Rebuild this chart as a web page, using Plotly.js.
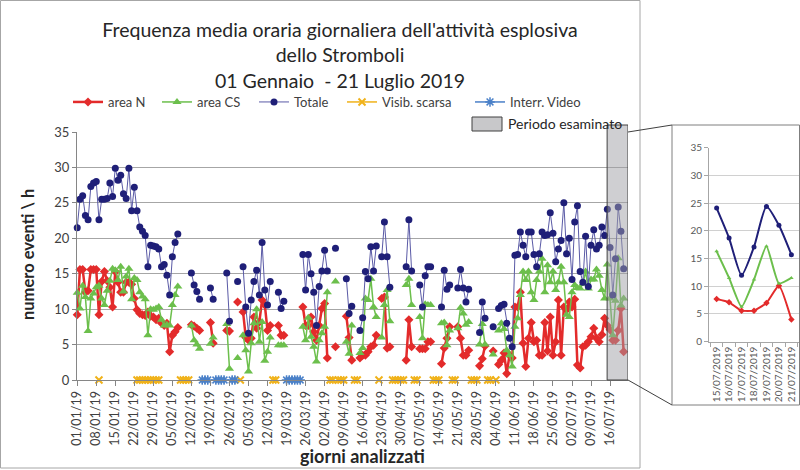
<!DOCTYPE html>
<html><head><meta charset="utf-8">
<script src="https://cdn.plot.ly/plotly-3.0.1.min.js"></script>
<style>html,body{margin:0;padding:0;background:#fff}#chart{width:800px;height:470px}</style>
</head><body><div id="chart"></div>
<script>
// ---- data (day 0 = 01/01/2019, one value per day, null = no data) ----
const startDate = '2019-01-01';
const areaN = [
9.2,15.6,15.6,12.4,12.6,15.6,15.6,15.6,9.2,13.9,
15.3,14.0,13.1,10.3,15.3,13.8,12.4,12.4,13.8,13.8,
13.5,11.5,9.9,9.4,9.2,9.1,9.6,9.0,8.9,8.5,
8.7,8.0,7.7,8.0,4.0,6.3,6.8,7.4,null,null,
null,null,7.8,7.6,7.3,7.0,null,null,null,8.1,
5.2,null,null,null,null,7.0,6.9,null,null,11.0,
null,9.6,6.0,5.6,5.9,8.9,7.3,8.2,11.3,10.6,
7.0,7.7,null,null,7.7,6.3,6.3,null,null,null,
null,null,null,10.3,7.7,7.7,8.9,6.8,5.6,7.7,
10.1,10.8,3.1,null,null,4.7,null,null,null,9.0,
6.0,2.8,null,null,3.1,3.5,3.5,4.0,4.7,4.9,
6.3,null,11.5,11.7,4.5,4.7,null,null,null,null,
null,2.8,8.5,4.7,null,null,4.4,4.4,4.4,5.4,
5.4,null,null,null,2.3,4.5,5.9,7.5,null,null,
7.5,5.9,3.5,3.5,4.2,null,null,null,2.0,3.0,
4.8,null,null,4.1,null,2.2,2.8,3.8,0.9,3.5,
3.1,10.3,10.3,12.4,5.2,1.9,5.9,8.1,5.4,5.6,
3.5,3.5,8.1,4.1,8.9,3.5,5.4,11.3,3.5,10.3,
9.9,11.0,10.3,11.4,2.1,1.7,4.7,4.9,5.4,6.1,
7.3,5.9,5.4,6.4,8.7,7.7,7.1,5.6,5.6,7.0,
10.1,4.0];
const areaCS = [
12.3,10.1,13.3,11.7,6.9,11.5,12.2,13.1,13.3,11.5,
10.6,12.6,14.0,15.7,15.5,14.1,16.0,12.5,14.6,15.7,
11.4,14.4,14.1,12.4,11.8,11.4,6.3,10.0,9.9,10.1,
10.3,8.5,7.7,7.8,7.7,10.6,12.0,13.2,null,null,
null,null,7.7,5.6,5.0,4.4,null,null,null,5.1,
6.0,null,null,null,null,7.9,1.6,null,null,3.1,
null,6.3,4.2,1.2,5.2,8.0,10.0,5.4,8.2,2.7,
4.0,6.0,null,null,4.9,4.9,4.9,null,null,null,
null,null,null,7.5,5.6,8.8,6.1,4.7,2.6,5.6,
6.6,7.5,12.4,null,null,13.9,null,null,null,5.4,
3.7,7.7,null,null,3.8,4.5,11.5,11.3,14.3,10.3,
8.9,null,6.0,10.6,12.7,8.3,null,null,null,null,
null,13.4,14.3,10.6,null,null,8.9,5.9,10.7,10.6,
10.6,null,null,null,8.0,8.1,4.9,7.0,null,null,
7.3,10.2,9.4,7.8,8.2,null,null,null,5.0,7.9,
5.0,null,null,3.6,null,7.0,8.0,7.2,4.2,3.5,
1.9,7.5,8.7,12.0,15.3,14.1,15.3,12.4,11.3,14.1,
15.3,17.1,12.4,16.2,13.8,15.3,12.7,13.8,16.0,13.8,
9.2,8.9,12.4,13.4,13.0,12.9,13.6,15.3,12.9,14.2,
14.2,15.6,14.7,12.7,11.5,16.3,11.5,6.3,11.2,17.2,
10.5,11.5];
const totale = [
21.5,25.5,26.0,23.2,22.6,27.3,27.8,28.0,22.6,25.5,
25.5,25.6,27.8,25.9,29.9,28.2,28.9,26.3,25.6,29.9,
23.9,27.2,23.9,21.6,21.0,20.4,16.0,19.0,18.9,18.8,
18.5,16.0,16.3,14.8,12.0,17.4,19.4,20.6,null,null,
null,null,15.1,13.4,12.5,11.4,null,null,null,13.0,
11.4,null,null,null,null,15.1,8.3,null,null,13.9,
null,16.0,10.3,6.6,11.3,13.9,15.5,12.0,19.4,12.7,
10.6,13.9,null,null,12.4,10.1,11.1,null,null,null,
null,null,null,17.7,12.7,17.7,15.0,12.4,7.7,13.2,
15.4,18.3,15.4,null,null,18.6,null,null,null,14.3,
9.4,10.4,null,null,7.0,8.8,15.3,14.3,18.8,15.4,
18.9,null,17.4,22.3,17.4,13.1,null,null,null,null,
null,16.0,22.6,15.4,null,null,13.4,10.3,14.7,16.0,
16.0,null,null,null,10.3,15.5,12.8,13.4,null,null,
13.0,15.6,13.0,11.0,12.8,null,null,null,6.7,11.0,
8.7,null,null,7.5,null,10.1,10.5,10.7,8.0,5.9,
4.7,17.6,17.7,20.9,19.0,17.4,20.9,20.9,17.7,16.0,
17.8,20.9,20.4,20.5,23.6,20.7,16.7,18.5,19.7,25.0,
17.8,20.0,14.2,22.3,24.6,15.3,13.8,20.3,13.2,19.0,
21.2,18.5,19.0,21.6,20.4,24.1,18.7,12.0,17.1,24.4,
21.0,15.7];
// days with poor visibility / video interruption (drawn on the zero line)
const visibDays = [8,22,23,24,25,26,27,28,29,30,38,39,40,41,60,72,73,93,94,96,97,98,102,103,111,116,117,118,119,120,124,125,131,132,133,138,139,145,146,147,151,152,154];
const videoDays = [46,47,48,51,52,53,54,57,58,77,78,79,80,81,82];
// inset (period examined)
const insetLabels = ['15/07/2019','16/07/2019','17/07/2019','18/07/2019','19/07/2019','20/07/2019','21/07/2019'];
const insetN   = [7.7,7.1,5.6,5.6,7.0,10.1,4.0];
const insetCS  = [16.3,11.5,6.3,11.2,17.2,10.5,11.5];
const insetTot = [24.1,18.7,12.0,17.1,24.4,21.0,15.7];

// ---- build ----
const W = 800, H = 470;
const px = x => x / W, py = y => 1 - y / H;
function dayToDate(i){ return new Date(Date.UTC(2019,0,1+i)).toISOString().slice(0,10); }
const dates = totale.map((_, i) => dayToDate(i));
const flag = days => dates.map((_, i) => days.includes(i) ? 0 : null);

const RED = '#e32b2b', GREEN = '#6cbf4c', NAVY = '#1f1f78', NAVYL = '#5a5aa6', ORANGE = '#f0b21a', BLUE = '#4a80c8';
const FONT = 'Lato, "Open Sans", sans-serif';

const traces = [
  {x: dates, y: areaN, name: 'area N', legend: 'legend', type: 'scatter', mode: 'lines+markers', cliponaxis: false,
   line: {color: RED, width: 2.5}, marker: {symbol: 'diamond', size: 7, color: RED}},
  {x: dates, y: areaCS, name: 'area CS', legend: 'legend2', type: 'scatter', mode: 'lines+markers', cliponaxis: false,
   line: {color: GREEN, width: 1.5}, marker: {symbol: 'triangle-up', size: 8, color: GREEN}},
  {x: dates, y: totale, name: 'Totale', legend: 'legend3', type: 'scatter', mode: 'lines+markers', cliponaxis: false,
   line: {color: NAVYL, width: 1}, marker: {symbol: 'circle', size: 7, color: NAVY}},
  {x: dates, y: flag(visibDays), name: 'Visib. scarsa', legend: 'legend4', type: 'scatter', mode: 'lines+markers', cliponaxis: false,
   line: {color: ORANGE, width: 1.5}, marker: {symbol: 'x-thin-open', size: 7, color: ORANGE, line: {width: 2, color: ORANGE}}},
  {x: dates, y: flag(videoDays), name: 'Interr. Video', legend: 'legend5', type: 'scatter', mode: 'lines+markers', cliponaxis: false,
   line: {color: BLUE, width: 1.5}, marker: {symbol: 'asterisk-open', size: 8, color: BLUE, line: {width: 1.5, color: BLUE}}},
  {x: insetLabels, y: insetN, xaxis: 'x2', yaxis: 'y2', showlegend: false, type: 'scatter', mode: 'lines+markers',
   line: {color: RED, width: 2, shape: 'spline', smoothing: 0.5}, marker: {symbol: 'diamond', size: 5, color: RED}},
  {x: insetLabels, y: insetCS, xaxis: 'x2', yaxis: 'y2', showlegend: false, type: 'scatter', mode: 'lines+markers',
   line: {color: GREEN, width: 2, shape: 'spline', smoothing: 0.5}, marker: {symbol: 'triangle-up', size: 4, color: GREEN}},
  {x: insetLabels, y: insetTot, xaxis: 'x2', yaxis: 'y2', showlegend: false, type: 'scatter', mode: 'lines+markers',
   line: {color: NAVY, width: 2, shape: 'spline', smoothing: 0.6}, marker: {symbol: 'circle', size: 5, color: NAVY}}
];

const legendAt = x => ({orientation: 'h', x: px(x), xanchor: 'left', y: py(87), yanchor: 'top',
  font: {family: FONT, size: 13, color: '#404040'}, bgcolor: 'rgba(0,0,0,0)', itemwidth: 30});

const layout = {
  width: W, height: H, margin: {l: 0, r: 0, t: 0, b: 0},
  paper_bgcolor: '#ffffff', plot_bgcolor: 'rgba(0,0,0,0)',
  font: {family: FONT, color: '#404040'},
  title: {text: 'Frequenza media oraria giornaliera dell\'attività esplosiva<br>dello Stromboli<br>01 Gennaio \u00a0- 21 Luglio 2019',
          x: px(340), xanchor: 'center', y: py(37), yanchor: 'top',
          font: {family: FONT, size: 19.5, color: '#262626'}},
  showlegend: true,
  legend: legendAt(68), legend2: legendAt(157), legend3: legendAt(254), legend4: legendAt(342), legend5: legendAt(470),
  xaxis: {domain: [px(77), px(628)], type: 'date', range: ['2018-12-31 22:00', '2019-07-22 14:24'],
          tick0: startDate, dtick: 604800000, tickformat: '%d/%m/%y', tickangle: -90,
          ticks: 'outside', ticklen: 5, tickcolor: '#868686', showline: true, linecolor: '#868686',
          showgrid: false, zeroline: false, automargin: false, tickfont: {size: 12.5, color: '#404040'}},
  yaxis: {domain: [py(380), py(132)], range: [0, 35], dtick: 5, showgrid: true, gridcolor: '#a6a6a6',
          showline: true, linecolor: '#868686', ticks: 'outside', ticklen: 4, tickcolor: '#868686',
          zeroline: false, automargin: false, tickfont: {size: 13, color: '#404040'}},
  xaxis2: {domain: [px(709), px(799)], anchor: 'y2', type: 'category', tickson: 'boundaries',
           ticks: 'outside', ticklen: 4, tickcolor: '#a6a6a6', tickangle: -90, showline: true, linecolor: '#a6a6a6',
           showgrid: false, automargin: false, tickfont: {size: 10, color: '#595959'}},
  yaxis2: {domain: [py(341.7), py(147.7)], anchor: 'x2', range: [0, 35], dtick: 5, showgrid: true, gridcolor: '#d0d0d0',
           showline: true, linecolor: '#a6a6a6', ticks: 'outside', ticklen: 4, tickcolor: '#a6a6a6',
           zeroline: false, automargin: false, tickfont: {size: 10, color: '#595959'}},
  shapes: [
    // chart frame
    {type: 'rect', xref: 'paper', yref: 'paper', x0: px(0.5), x1: px(640), y0: py(468), y1: py(0.5),
     line: {color: '#a6a6a6', width: 1}, fillcolor: 'rgba(0,0,0,0)', layer: 'below'},
    // examined period band
    {type: 'rect', xref: 'x', yref: 'paper', x0: '2019-07-14 22:00', x1: '2019-07-22 14:24', y0: py(380), y1: py(125),
     line: {color: '#404040', width: 1}, fillcolor: 'rgba(160,160,166,0.5)', layer: 'above'},
    // legend key for the band
    {type: 'rect', xref: 'paper', yref: 'paper', x0: px(472), x1: px(502), y0: py(131), y1: py(117),
     line: {color: '#404040', width: 1}, fillcolor: '#c8c8ca'},
    // inset frame
    {type: 'rect', xref: 'paper', yref: 'paper', x0: px(672), x1: px(799.5), y0: py(405), y1: py(125),
     line: {color: '#7f7f7f', width: 1}, fillcolor: 'rgba(0,0,0,0)'},
    // connectors
    {type: 'line', xref: 'paper', yref: 'paper', x0: px(628), y0: py(132), x1: px(672), y1: py(125), line: {color: '#404040', width: 1}},
    {type: 'line', xref: 'paper', yref: 'paper', x0: px(628), y0: py(380), x1: px(672), y1: py(405), line: {color: '#404040', width: 1}}
  ],
  annotations: [
    {text: '<b>numero eventi \\ h</b>', xref: 'paper', yref: 'paper', x: px(28), y: py(255), textangle: -90,
     xanchor: 'center', yanchor: 'middle', showarrow: false, font: {family: FONT, size: 16.5, color: '#262626'}},
    {text: '<b>giorni analizzati</b>', xref: 'paper', yref: 'paper', x: px(362), y: py(456),
     xanchor: 'center', yanchor: 'middle', showarrow: false, font: {family: FONT, size: 18, color: '#262626'}},
    {text: 'Periodo esaminato', xref: 'paper', yref: 'paper', x: px(506), y: py(124), xanchor: 'left', yanchor: 'middle',
     showarrow: false, font: {family: FONT, size: 14, color: '#262626'}}
  ]
};

Plotly.newPlot('chart', traces, layout, {displayModeBar: false, staticPlot: true});
</script>
</body></html>
